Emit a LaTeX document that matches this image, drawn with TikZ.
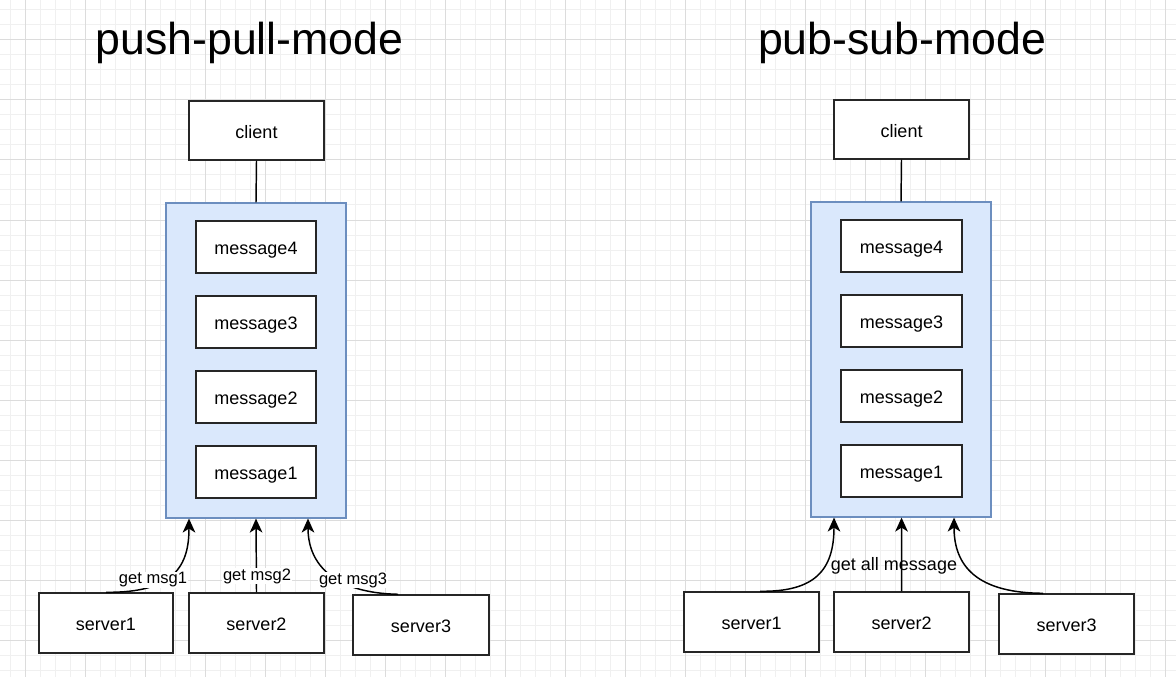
\documentclass[tikz,border=0pt]{standalone}
\usepackage{fontspec}
\setmainfont{Liberation Sans}
\usetikzlibrary{arrows.meta}
\definecolor{boxblue}{HTML}{DAE8FC}
\definecolor{boxedge}{HTML}{6C8EBF}
\definecolor{gridmajor}{HTML}{DCDCDC}
\definecolor{gridminor}{HTML}{F0F0F0}
\tikzset{
  minorgrid/.style={draw=gridminor, line width=0.75pt},
  majorgrid/.style={draw=gridmajor, line width=0.75pt},
  wh/.style 2 args={minimum width=#1*0.75pt, minimum height=#2*0.75pt},
  box/.style={draw=black!85, line width=1.1pt, fill=white, inner sep=0pt,
    text height=11.5pt, text depth=0pt,
    font=\fontsize{13.5}{16}\selectfont},
  container/.style={draw=boxedge, line width=0.9pt, fill=boxblue, inner sep=0pt},
  title/.style={font=\fontsize{33.5}{40}\selectfont, anchor=base},
  conn/.style={draw=black, line width=1.1pt},
  arr/.style={conn, -{Stealth[length=10.5pt, width=9.5pt, inset=3pt]}},
  lbl/.style={fill=white, inner sep=0.5pt, font=\fontsize{12.4}{14}\selectfont},
  lblbig/.style={inner sep=0.5pt, font=\fontsize{13.5}{16}\selectfont}
}
\begin{document}
\begin{tikzpicture}[x=0.75pt, y=-0.75pt]
\useasboundingbox (0,0) rectangle (1176,677);
\fill[white] (0,0) rectangle (1176,677);
% grid
\foreach \x in {10,25,...,1175} \draw[minorgrid] (\x,0) -- (\x,677);
\foreach \y in {10,25,...,676} \draw[minorgrid] (0,\y) -- (1176,\y);
\foreach \x in {25,85,...,1165} \draw[majorgrid] (\x,0) -- (\x,677);
\foreach \y in {40,100,...,640} \draw[majorgrid] (0,\y) -- (1176,\y);

% ---------- left: push-pull-mode ----------
\node[title] (titleL) at (249.5,55) {push-pull-mode};
\node[box, wh={135}{59}] (clientL) at (256.5,130.5) {client};
\node[container, wh={180}{315}] (contL) at (256,360.5) {};
\node[box, wh={120}{52}] (m4L) at (256,247) {message4};
\node[box, wh={120}{52}] (m3L) at (256,322) {message3};
\node[box, wh={120}{52}] (m2L) at (256,397) {message2};
\node[box, wh={120}{52}] (m1L) at (256,472) {message1};
\node[box, wh={134}{60}] (s1L) at (106,623) {server1};
\node[box, wh={135}{60}] (s2L) at (256.5,623) {server2};
\node[box, wh={136}{60}] (s3L) at (421,625) {server3};
\draw[conn] (clientL.south) -- (contL.north);

\draw[arr] (s1L.north) .. controls (175,593) and (189,565) .. ([xshift=-50.25pt]contL.south);
\draw[arr] (s2L.north) -- (contL.south);
\draw[arr] ([xshift=-17.25pt]s3L.north) .. controls (335,593) and (308,565) .. ([xshift=39pt]contL.south);
\node[lbl] (l1L) at (153,580) {get msg1};
\node[lbl] (l2L) at (257,576) {get msg2};
\node[lbl] (l3L) at (353,580) {get msg3};

% ---------- right: pub-sub-mode ----------
\node[title] (titleR) at (902,55) {pub-sub-mode};
\node[box, wh={135}{59}] (clientR) at (901.5,129.5) {client};
\node[container, wh={180}{315}] (contR) at (901,359.5) {};
\node[box, wh={121}{52}] (m4R) at (901.5,246) {message4};
\node[box, wh={121}{52}] (m3R) at (901.5,321) {message3};
\node[box, wh={121}{52}] (m2R) at (901.5,396) {message2};
\node[box, wh={121}{52}] (m1R) at (901.5,471) {message1};
\node[box, wh={135}{60}] (s1R) at (751.5,622) {server1};
\node[box, wh={135}{60}] (s2R) at (901.5,622) {server2};
\node[box, wh={135}{60}] (s3R) at (1066.5,624) {server3};
\draw[conn] (clientR.south) -- (contR.north);

\draw[arr] ([xshift=6.4pt]s1R.north) .. controls (815,592) and (834,570) .. ([xshift=-50.25pt]contR.south);
\draw[arr] (s2R.north) -- ([xshift=0.4pt]contR.south);
\draw[arr] ([xshift=-17.6pt]s3R.north) .. controls (970,593) and (954,560) .. ([xshift=39.75pt]contR.south);
\node[lblbig] (lR) at (894,566) {get all message};
\end{tikzpicture}
\end{document}
